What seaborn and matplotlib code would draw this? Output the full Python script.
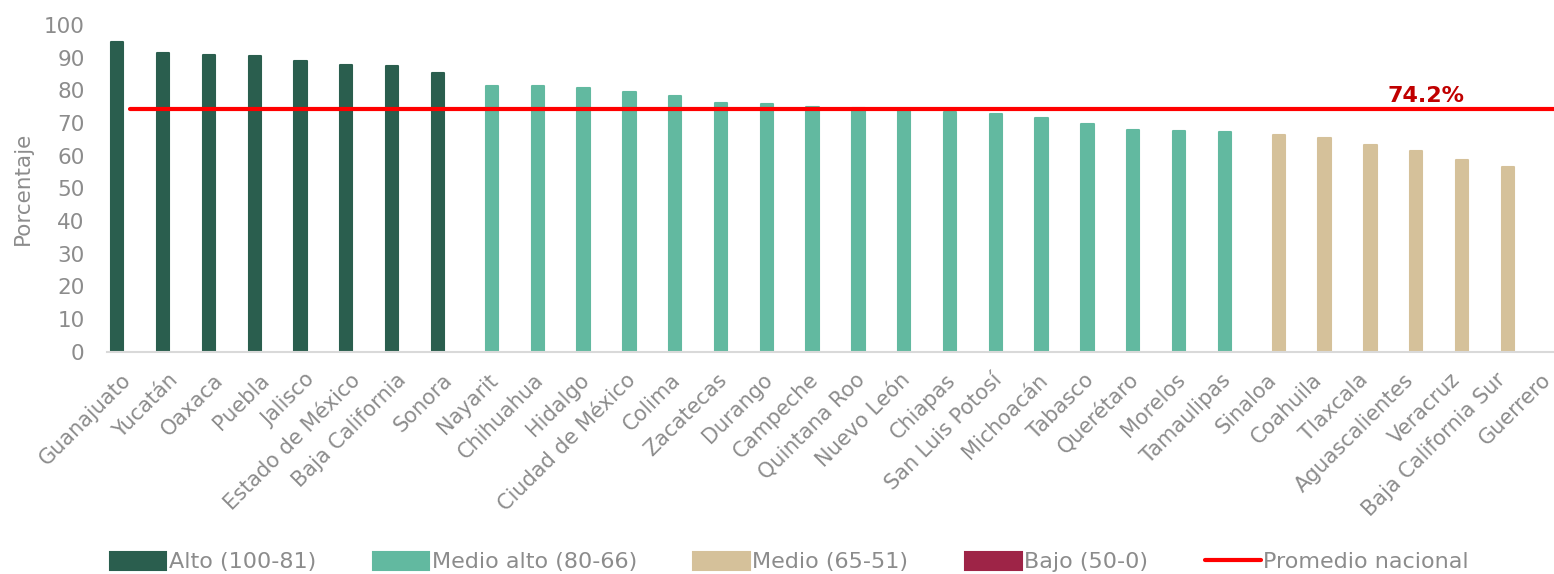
import matplotlib
matplotlib.use("Agg")
import matplotlib.pyplot as plt
import matplotlib.transforms as mtransforms
from matplotlib.patches import Patch
from matplotlib.lines import Line2D
import numpy as np
import pandas as pd
import seaborn as sns

estados = [
    "Guanajuato", "Yucatán", "Oaxaca", "Puebla", "Jalisco", "Estado de México",
    "Baja California", "Sonora", "Nayarit", "Chihuahua", "Hidalgo",
    "Ciudad de México", "Colima", "Zacatecas", "Durango", "Campeche",
    "Quintana Roo", "Nuevo León", "Chiapas", "San Luis Potosí", "Michoacán",
    "Tabasco", "Querétaro", "Morelos", "Tamaulipas", "Sinaloa", "Coahuila",
    "Tlaxcala", "Aguascalientes", "Veracruz", "Baja California Sur", "Guerrero",
]
valores = [
    94.9, 91.3, 90.9, 90.6, 88.9, 87.8, 87.4, 85.3, 81.5, 81.4, 80.8,
    79.5, 78.3, 76.1, 75.9, 74.9, 74.7, 74.2, 73.3, 72.7, 71.7,
    69.8, 67.9, 67.6, 67.4, 66.4, 65.4, 63.3, 61.5, 58.6, 56.5, np.nan,
]
niveles = ["Alto (100-81)"] * 8 + ["Medio alto (80-66)"] * 17 + ["Medio (65-51)"] * 6 + ["Bajo (50-0)"]
nivel_orden = ["Alto (100-81)", "Medio alto (80-66)", "Medio (65-51)", "Bajo (50-0)"]
colores = ["#2a5e4e", "#62b9a0", "#d5c19a", "#9e2447"]
promedio = 74.2

gris = "#8c8c8c"
sns.set_theme(style="white")
plt.rcParams["font.family"] = ["DejaVu Sans"]

# Excel-style clustered slots: each level sits at its own offset in the category
desplazamiento = dict(zip(nivel_orden, [-0.27, -0.09, 0.09, 0.27]))
df = pd.DataFrame({"estado": estados, "valor": valores, "nivel": niveles})
df["pos"] = np.arange(len(df)) + df["nivel"].map(desplazamiento)
df = df.dropna(subset=["valor"])

fig = plt.figure(figsize=(15.54, 5.74), dpi=100)
ax = fig.add_axes([0.0687, 0.3873, 0.9431, 0.569])

sns.barplot(data=df, x="pos", y="valor", hue="nivel", hue_order=nivel_orden,
            palette=colores, saturation=1, native_scale=True, dodge=False,
            width=0.27, legend=False, ax=ax)
for p in ax.patches:
    p.set_edgecolor(p.get_facecolor())
    p.set_linewidth(1.5)
    p.set_joinstyle("round")

ax.plot([0, len(estados)], [promedio, promedio], color="#ff0000", lw=3,
        solid_capstyle="round", zorder=5)
ax.annotate(f"{promedio}%", xy=(28.3, promedio), xytext=(0, 2.5), textcoords="offset points",
            ha="center", va="bottom", color="#c00000", fontsize=16, fontweight="bold")

ax.set_xlim(-0.5, len(estados) - 0.5)
ax.set_ylim(0, 100)
ax.set_yticks(range(0, 101, 10))
ax.set_xticks(range(len(estados)))
ax.set_xticklabels(estados, rotation=45, ha="right", rotation_mode="anchor")
ax.tick_params(axis="x", length=0, labelsize=15, labelcolor=gris, pad=13)
ax.tick_params(axis="y", length=0, labelsize=15.5, labelcolor=gris, pad=16)
shift = mtransforms.ScaledTranslation(-6 / 72, 0, fig.dpi_scale_trans)
for lbl in ax.get_xticklabels():
    lbl.set_transform(lbl.get_transform() + shift)
ax.set_xlabel("")
ax.set_ylabel("Porcentaje", color=gris, fontsize=15.5, labelpad=8)
for s in ["top", "right", "left"]:
    ax.spines[s].set_visible(False)
ax.spines["bottom"].set_color("#d9d9d9")
ax.spines["bottom"].set_linewidth(1.5)
ax.spines["bottom"].set_zorder(6)

handles = [Patch(facecolor=c, edgecolor=c, joinstyle="round", linewidth=1.5) for c in colores]
handles.append(Line2D([0], [0], color="#ff0000", lw=3))
fig.legend(handles, nivel_orden + ["Promedio nacional"], loc="center",
           bbox_to_anchor=(0.508, 0.021), ncol=5, frameon=False, fontsize=16,
           labelcolor=gris, handlelength=2.55, handleheight=0.9,
           handletextpad=0.1, columnspacing=2.55)

fig.savefig("out.png", dpi=100)
